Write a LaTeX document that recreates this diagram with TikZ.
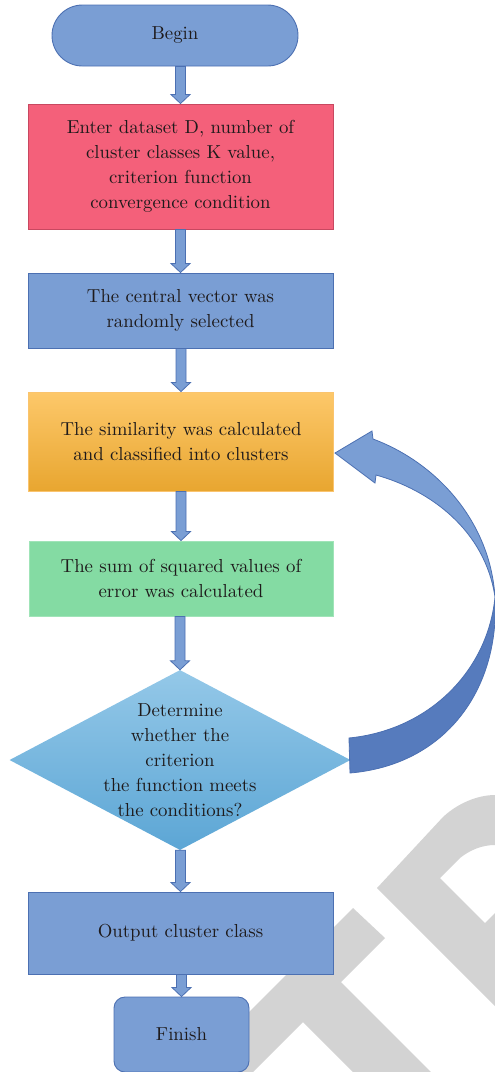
\documentclass[tikz,border=0pt]{standalone}
\usepackage{fontspec}
\setmainfont{lmroman10-regular}[Extension=.otf, BoldFont=lmroman10-bold, ItalicFont=lmroman10-italic]
\usetikzlibrary{shapes.geometric,calc}

\definecolor{boxblue}{RGB}{122,158,212}
\definecolor{lineblue}{RGB}{76,112,178}
\definecolor{darkblue}{RGB}{86,123,189}
\definecolor{inred}{RGB}{244,96,122}
\definecolor{linered}{RGB}{200,72,96}
\definecolor{orangetop}{RGB}{253,200,106}
\definecolor{orangebot}{RGB}{232,166,48}
\definecolor{lineorange}{RGB}{250,196,110}
\definecolor{boxgreen}{RGB}{132,219,163}
\definecolor{linegreen}{RGB}{160,228,184}
\definecolor{difftop}{RGB}{148,200,232}
\definecolor{diffbot}{RGB}{92,166,213}
\definecolor{wmgray}{RGB}{211,211,211}
\definecolor{ink}{RGB}{30,26,27}

\tikzset{
  box/.style={rectangle, draw=lineblue, fill=boxblue, line width=0.9pt,
    minimum width=305pt, align=center, text=ink},
  flowarrow/.style={draw=lineblue, fill=boxblue, line width=0.8pt},
}

% block arrow straight down onto the top of #2
\newcommand{\flowdown}[2]{%
  \draw[flowarrow] let \p1=(#1), \p2=(#2) in
    (\x2-5pt,\y1) -- (\x2-5pt,\y2+9pt) -- (\x2-9.5pt,\y2+9pt) -- (\x2,\y2)
    -- (\x2+9.5pt,\y2+9pt) -- (\x2+5pt,\y2+9pt) -- (\x2+5pt,\y1) -- cycle;}

\begin{document}
\begin{tikzpicture}[x=1pt,y=-1pt,font=\fontsize{18.8}{25}\selectfont]
    \useasboundingbox (0,0) rectangle (495,1072);

    % watermark
    \fill[wmgray] (353,908) -- (385,938) -- (341,982) -- (431,1072) -- (353,1072)
        -- (303,1022) -- (253,1072) -- (189,1072) -- cycle;
    \fill[wmgray] (377,888) -- (443,817) .. controls (458,803) and (478,795) .. (495,795)
        -- (495,845) .. controls (482,845) and (470,850) .. (460,858) -- (440,878)
        -- (485,923) -- (495,913) -- (495,1006) -- cycle;

    \node[box, rounded corners=30.5pt, minimum width=246pt, minimum height=61pt] (begin) at (175,35.5) {Begin};
    \node[box, fill=inred, draw=linered, minimum height=125pt] (input) at (180.5,166.5)
        {Enter dataset D, number of\\cluster classes K value,\\criterion function\\convergence condition};
    \node[box, minimum height=75pt] (select) at (180.5,310.5) {The central vector was\\randomly selected};
    \node[box, draw=lineorange, top color=orangetop, bottom color=orangebot, minimum height=99pt] (similar) at (181,441.5)
        {The similarity was calculated\\and classified into clusters};
    \node[box, draw=linegreen, fill=boxgreen, minimum width=304pt, minimum height=75pt] (sse) at (181,578.5)
        {The sum of squared values of\\error was calculated};
    \node[diamond, top color=difftop, bottom color=diffbot, minimum width=341pt, minimum height=180pt, inner sep=0pt] (check) at (180,760) {};
    \node[align=center, text=ink] (checktext) at (check.center)
        {Determine\\whether the\\criterion\\the function meets\\the conditions?};
    \node[box, minimum height=82pt] (output) at (180.5,933) {Output cluster class};
    \node[box, rounded corners=11pt, minimum width=135pt, minimum height=75pt] (finish) at (181.5,1034.5) {Finish};

    \flowdown{begin.south}{input.north}
    \flowdown{input.south}{select.north}
    \flowdown{select.south}{similar.north}
    \flowdown{similar.south}{sse.north}
    \flowdown{sse.south}{check.north}
    \flowdown{check.south}{output.north}
    \flowdown{output.south}{finish.north}

    % loop back arrow
    \filldraw[flowarrow] (373,439) .. controls (435,462) and (490,520) .. (495,597)
        .. controls (485,530) and (430,490) .. (376,475) -- (375,483) -- (335,453) -- (372,431) -- cycle;
    \filldraw[flowarrow, fill=darkblue] (495,597) .. controls (500,690) and (445,765) .. (350,773)
        -- (349,738) .. controls (430,730) and (488,670) .. (495,597) -- cycle;
\end{tikzpicture}
\end{document}
